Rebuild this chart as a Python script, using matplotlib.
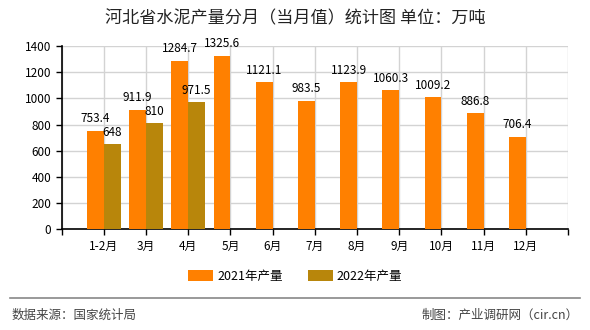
import matplotlib.pyplot as plt
import numpy as np

plt.rcParams['font.family'] = ['Noto Sans CJK SC', 'DejaVu Sans']

months = ['1-2月', '3月', '4月', '5月', '6月', '7月', '8月', '9月', '10月', '11月', '12月']
v2021 = [753.4, 911.9, 1284.7, 1325.6, 1121.1, 983.5, 1123.9, 1060.3, 1009.2, 886.8, 706.4]
v2022 = [648, 810, 971.5]
lab2021 = ['753.4', '911.9', '1284.7', '1325.6', '1121.1', '983.5', '1123.9', '1060.3', '1009.2', '886.8', '706.4']
lab2022 = ['648', '810', '971.5']

c2021 = '#FF8000'
c2022 = '#B8860B'

fig = plt.figure(figsize=(5.9, 3.3), dpi=100)
ax = fig.add_axes([0.1046, 0.305, 0.858, 0.5558])

x = np.arange(len(months))
w = 0.4
b1 = ax.bar(x - w / 2, v2021, width=w, color=c2021, label='2021年产量', zorder=3)
b2 = ax.bar(x[:len(v2022)] + w / 2, v2022, width=w, color=c2022, label='2022年产量', zorder=3)

for rect, t in zip(b1, lab2021):
    ax.annotate(t, (rect.get_x() + rect.get_width() / 2, rect.get_height()),
                xytext=(0, 4), textcoords='offset points', ha='center', va='bottom',
                fontsize=8.5, color='black', zorder=4)
for rect, t in zip(b2, lab2022):
    ax.annotate(t, (rect.get_x() + rect.get_width() / 2, rect.get_height()),
                xytext=(0, 4), textcoords='offset points', ha='center', va='bottom',
                fontsize=8.5, color='black', zorder=4)

ax.set_xlim(-1, 11)
ax.set_ylim(0, 1400)
ax.set_xticks(np.arange(-1, 12))
ax.set_xticklabels([''] + months + [''])
ax.set_yticks(np.arange(0, 1401, 200))
ax.tick_params(axis='both', labelsize=8.5, direction='out', length=4, width=1, colors='black')
ax.grid(True, color='#d3d3d3', linewidth=1, zorder=0)
ax.spines['top'].set_visible(False)
ax.spines['right'].set_visible(False)
ax.spines['left'].set_linewidth(1.2)
ax.spines['bottom'].set_linewidth(1.2)
ax.set_axisbelow(True)

fig.text(0.5, 0.945, '河北省水泥产量分月（当月值）统计图 单位：万吨', ha='center', va='center',
         fontsize=12.3, color='#222222')

fig.legend(handles=[b1, b2], loc='center', bbox_to_anchor=(0.5, 0.163), ncol=2,
           frameon=False, fontsize=9, handlelength=2.0, handleheight=0.9,
           columnspacing=2.0, handletextpad=0.3)

fig.add_artist(plt.Line2D([0.017, 0.983], [0.097, 0.097], color='#888888', linewidth=1.2,
                          transform=fig.transFigure))
fig.text(0.02, 0.045, '数据来源：国家统计局', ha='left', va='center', fontsize=9, color='#444444')
fig.text(0.98, 0.045, '制图：产业调研网（cir.cn）', ha='right', va='center', fontsize=9, color='#444444')

fig.savefig('out.png', dpi=100)
